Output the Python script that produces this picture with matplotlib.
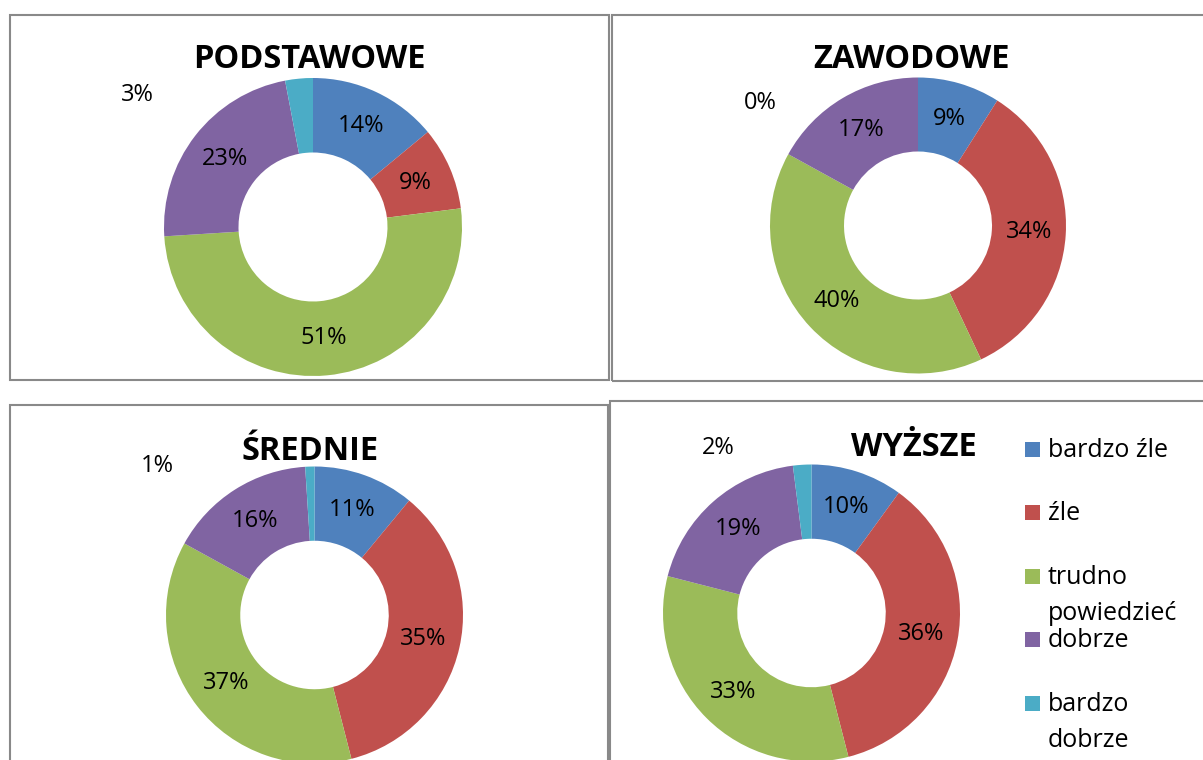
import matplotlib
matplotlib.use("Agg")
import matplotlib.pyplot as plt
from matplotlib.patches import Rectangle

# Legend categories and Excel-2007 style colours
categories = ["bardzo źle", "źle", "trudno\npowiedzieć", "dobrze", "bardzo\ndobrze"]
colors = ["#4F81BD", "#C0504D", "#9BBB59", "#8064A2", "#4BACC6"]

# Percentages per education level
titles = ["PODSTAWOWE", "ZAWODOWE", "ŚREDNIE", "WYŻSZE"]
podstawowe = [14, 9, 51, 23, 3]
zawodowe = [9, 34, 40, 17, 0]
srednie = [11, 35, 37, 16, 1]
wyzsze = [10, 36, 33, 19, 2]
series = [podstawowe, zawodowe, srednie, wyzsze]

plt.rcParams['font.family'] = ['Open Sans', 'DejaVu Sans']

W, H = 1203, 760
fig = plt.figure(figsize=(W / 100, H / 100), dpi=100)

# layout in pixels: pie centre, radius, title position, small-label offset (radius units)
centres = [(313, 227, 149), (918, 225.5, 148), (314.5, 615, 148.5), (811.5, 613, 148.5)]
title_pos = [(309.5, 68), (911.5, 68), (310.5, 460), (914, 456)]
small_pos = [(-1.178, 0.886), (-1.068, 0.828), (-1.06, 1.003), (-0.63, 1.11)]
frames = [(10, 15, 609, 380), (612, 15, 1215, 381), (10, 405, 608, 775), (610, 401, 1215, 775)]

for x0, y0, x1, y1 in frames:
    fig.add_artist(Rectangle((x0 / W, 1 - y1 / H), (x1 - x0) / W, (y1 - y0) / H,
                             transform=fig.transFigure, fill=False,
                             edgecolor='#898989', linewidth=1.5))

for vals, title, (cx, cy, r), (tx, ty), spos in zip(series, titles, centres, title_pos, small_pos):
    side = 2.5 * r
    ax = fig.add_axes([(cx - side / 2) / W, 1 - (cy + side / 2) / H, side / W, side / H])
    wedges, texts, autotexts = ax.pie(vals, colors=colors, startangle=90, counterclock=False,
                                      wedgeprops=dict(width=0.5, linewidth=0),
                                      autopct='%.0f%%', pctdistance=0.75,
                                      textprops=dict(fontsize=17, color='black'))
    ax.set_xlim(-1.25, 1.25)
    ax.set_ylim(-1.25, 1.25)
    ax.set_aspect('equal')
    autotexts[-1].set_position(spos)
    fig.text(tx / W, 1 - ty / H, title, ha='center', va='baseline',
             fontsize=23.5, fontweight='bold')

# legend drawn by hand (Excel puts the marker beside the first line)
baselines = [457, 520, 584, 647, 711]
line_step = 36
for label, col, yb in zip(categories, colors, baselines):
    fig.add_artist(Rectangle((1025 / W, 1 - yb / H), 15 / W, 15 / H,
                             transform=fig.transFigure, color=col, linewidth=0))
    for j, line in enumerate(label.split("\n")):
        fig.text(1048 / W, 1 - (yb + j * line_step) / H, line, ha='left',
                 va='baseline', fontsize=18)

fig.savefig("out.png", dpi=100, facecolor='white')
